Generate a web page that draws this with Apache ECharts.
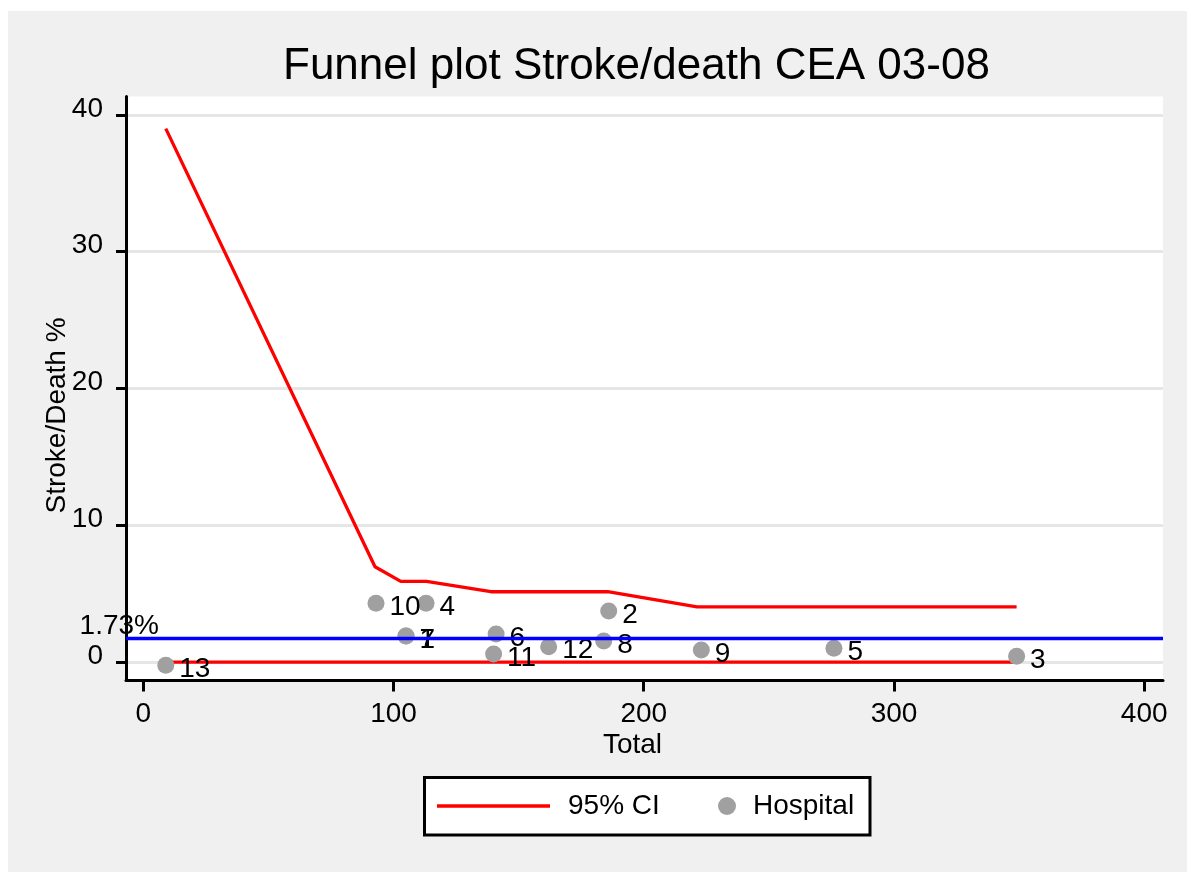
<!DOCTYPE html>
<html>
<head>
<meta charset="utf-8">
<script src="https://cdn.jsdelivr.net/npm/echarts@6/dist/echarts.min.js"></script>
<style>
  html, body { margin: 0; padding: 0; background: #ffffff; }
  #panel { position: absolute; left: 8px; top: 11px; width: 1179px; height: 861px; background: #f0f0f0; }
  #chart { position: absolute; left: 0; top: 0; width: 1187px; height: 872px; }
</style>
</head>
<body>
<div id="panel"></div>
<div id="chart"></div>
<script>
// ---- data ----
const hospitalLabels = ['1','2','3','4','5','6','7','8','9','10','11','12','13'];
const hospitalTotal  = [105, 186, 349, 113, 276, 141, 105, 184, 223, 93, 140, 162, 9];
const hospitalRate   = [1.9, 3.73, 0.43, 4.29, 1.0, 2.05, 1.9, 1.54, 0.88, 4.29, 0.59, 1.12, -0.24];

const ciTotal = [9, 92.6, 102.9, 113.2, 138.9, 185.6, 221.3, 349];
const ciUpper = [39, 6.97, 5.9, 5.9, 5.14, 5.14, 4.04, 4.04];
const ciLowerTotal = [9, 349];
const ciLower = [0, 0];

const overallRate = 1.73;
const overallLabel = '1.73%';

const xTicks = [0, 100, 200, 300, 400];
const yTicks = [0, 10, 20, 30, 40];

const titleText = 'Funnel plot Stroke/death CEA 03-08';
const xName = 'Total';
const yName = 'Stroke/Death %';

// ---- chart ----
const FONT = '"Liberation Sans", Arial, sans-serif';
const chart = echarts.init(document.getElementById('chart'), null, { renderer: 'canvas' });

const upperData = ciTotal.map((t, i) => [t, ciUpper[i]]);
const lowerData = ciLowerTotal.map((t, i) => [t, ciLower[i]]);
const hospData = hospitalTotal.map((t, i) => ({ value: [t, hospitalRate[i]], name: hospitalLabels[i] }));

chart.setOption({
  backgroundColor: 'transparent',
  animation: false,
  title: {
    text: titleText,
    left: 283, top: 45, padding: 0,
    textStyle: { fontFamily: FONT, fontSize: 44, fontWeight: 'normal', color: '#000' }
  },
  graphic: [{
    type: 'rect', z: 0,
    shape: { x: 424.5, y: 777.5, width: 445.5, height: 57.5 },
    style: { fill: '#ffffff', stroke: '#000000', lineWidth: 3 }
  }],
  legend: [{
    data: [{ name: '95% CI', icon: 'rect' }], selectedMode: false,
    left: 437, top: 792, padding: 0,
    itemWidth: 113, itemHeight: 3.3, itemGap: 0,
    textStyle: { fontFamily: FONT, fontSize: 28, color: '#000', padding: [0, 0, 0, 13] }
  }, {
    data: [{ name: 'Hospital', icon: 'circle' }], selectedMode: false,
    left: 718, top: 792, padding: 0,
    itemWidth: 18, itemHeight: 18, itemGap: 0,
    textStyle: { fontFamily: FONT, fontSize: 28, color: '#000', padding: [0, 0, 0, 12] }
  }],
  grid: {
    left: 126, top: 96.5, right: 24, bottom: 191.5,
    show: true, backgroundColor: '#ffffff', borderWidth: 0
  },
  xAxis: {
    type: 'value', min: -6.9, max: 407.5,
    name: xName, nameLocation: 'middle', nameGap: 51, nameMoveOverlap: false,
    nameTextStyle: { fontFamily: FONT, fontSize: 28, color: '#000', padding: [0, 24, 0, 0] },
    axisLine: { show: true, onZero: false, lineStyle: { color: '#000', width: 3 } },
    axisTick: { show: true, length: 11, lineStyle: { color: '#000', width: 3 }, customValues: xTicks },
    axisLabel: { fontFamily: FONT, fontSize: 28, color: '#000', margin: 20, customValues: xTicks },
    splitLine: { show: false }
  },
  yAxis: {
    type: 'value', min: -1.35, max: 41.35,
    name: yName, nameLocation: 'middle', nameGap: 55, nameMoveOverlap: false,
    nameTextStyle: { fontFamily: FONT, fontSize: 28, color: '#000', padding: [0, 54, 0, 0] },
    axisLine: { show: true, onZero: false, lineStyle: { color: '#000', width: 3 } },
    axisTick: { show: true, length: 10, lineStyle: { color: '#000', width: 3 }, customValues: yTicks },
    axisLabel: { fontFamily: FONT, fontSize: 28, color: '#000', margin: 23, verticalAlign: 'bottom', lineHeight: 12, customValues: yTicks },
    splitLine: { show: true, lineStyle: { color: '#e6e6e6', width: 3 } }
  },
  series: [{
    name: '95% CI', type: 'line', data: upperData,
    symbol: 'none', lineStyle: { color: '#ff0000', width: 3.3 }, itemStyle: { color: '#ff0000' },
    z: 2, silent: true
  }, {
    name: '95% CI', type: 'line', data: lowerData,
    symbol: 'none', lineStyle: { color: '#ff0000', width: 3.3 }, itemStyle: { color: '#ff0000' },
    z: 2, silent: true,
    markLine: {
      silent: true, symbol: 'none',
      lineStyle: { color: '#0000ff', width: 3.3, type: 'solid' },
      label: {
        show: true, position: 'start', formatter: overallLabel, distance: -33,
        verticalAlign: 'bottom', lineHeight: 24,
        fontFamily: FONT, fontSize: 28, color: '#000'
      },
      data: [{ yAxis: overallRate }]
    }
  }, {
    name: 'Hospital', type: 'scatter', data: hospData,
    symbol: 'circle', symbolSize: 17,
    itemStyle: { color: '#a0a0a0', opacity: 1 },
    z: 3, silent: true,
    label: {
      show: true, position: 'right', distance: 5, offset: [0, 4],
      formatter: p => p.name,
      fontFamily: FONT, fontSize: 28, color: '#000'
    }
  }]
});
</script>
</body>
</html>
